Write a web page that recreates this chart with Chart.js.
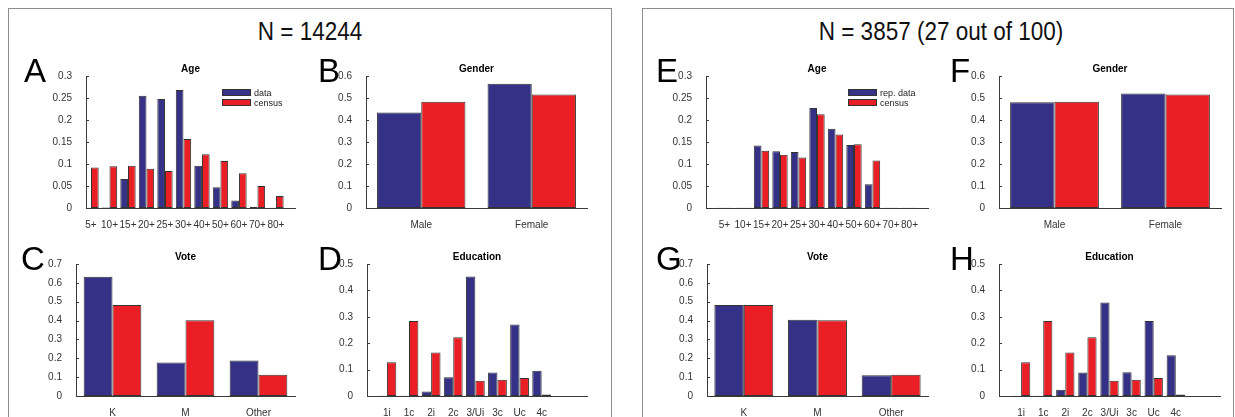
<!DOCTYPE html>
<html>
<head>
<meta charset="utf-8">
<script src="https://cdn.jsdelivr.net/npm/chart.js@4.4.1/dist/chart.umd.min.js"></script>
<style>
body { margin:0; background:#fff; width:1235px; height:417px; overflow:hidden; position:relative;
       font-family:"Liberation Sans", Arial, Helvetica, sans-serif; }
.moldura { position:absolute; border:1px solid #8c8c8c; box-sizing:border-box; }
.cabecalho { position:absolute; font-size:25px; line-height:25px; color:#111; white-space:nowrap; transform:translateX(-50%) scaleX(0.9); }
.letra { position:absolute; font-size:33px; line-height:33px; color:#000; z-index:2; }
canvas { position:absolute; }
</style>
</head>
<body>
<div class="moldura" style="left:8px;top:8px;width:604px;height:500px"></div>
<div class="moldura" style="left:642px;top:8px;width:592px;height:500px"></div>
<div class="cabecalho" style="left:310px;top:19px">N = 14244</div>
<div class="cabecalho" style="left:941px;top:19px">N = 3857 (27 out of 100)</div>
<div class="letra" style="left:24px;top:54px">A</div>
<div class="letra" style="left:318px;top:54px">B</div>
<div class="letra" style="left:21px;top:242px">C</div>
<div class="letra" style="left:318px;top:242px">D</div>
<div class="letra" style="left:656px;top:54px">E</div>
<div class="letra" style="left:950px;top:54px">F</div>
<div class="letra" style="left:656px;top:242px">G</div>
<div class="letra" style="left:950px;top:242px">H</div>
<script>
// dados
const faixas_idade = ['5+','10+','15+','20+','25+','30+','40+','50+','60+','70+','80+'];
const idade_dados = [0.0008, 0.0012, 0.066, 0.255, 0.248, 0.268, 0.096, 0.047, 0.017, 0.003, 0.0008];
const idade_censo = [0.092, 0.095, 0.096, 0.089, 0.084, 0.157, 0.122, 0.107, 0.079, 0.050, 0.027];
const idade_rep_dados = [0.0008, 0.0008, 0.142, 0.129, 0.127, 0.227, 0.180, 0.143, 0.054, 0.0008, 0.0008];
const idade_rep_censo = [0.0008, 0.0008, 0.130, 0.121, 0.115, 0.213, 0.167, 0.145, 0.108, 0.0008, 0.0008];

const generos = ['Male','Female'];
const genero_dados = [0.434, 0.565];
const genero_censo = [0.483, 0.516];
const genero_rep_dados = [0.481, 0.520];

const votos = ['K','M','Other'];
const voto_dados = [0.633, 0.177, 0.188];
const voto_censo = [0.482, 0.402, 0.113];
const voto_rep_dados = [0.482, 0.404, 0.110];

const escolaridade = ['1i','1c','2i','2c','3/Ui','3c','Uc','4c'];
const escolaridade_dados = [0.001, 0.001, 0.017, 0.071, 0.453, 0.089, 0.271, 0.096];
const escolaridade_censo = [0.128, 0.284, 0.165, 0.223, 0.058, 0.062, 0.068, 0.006];
const escolaridade_rep_dados = [0.001, 0.001, 0.024, 0.089, 0.354, 0.090, 0.284, 0.154];

const azul = 'rgb(53,49,135)';
const vermelho = 'rgb(234,31,37)';
const fonte = '"Liberation Sans", Arial, Helvetica, sans-serif';

// titulo, ticks internos do eixo y e legenda
const extras = {
    id: 'extras',
    afterDraw(chart, args, opts){
        const ctx = chart.ctx;
        const area = chart.chartArea;
        const eixo_y = chart.scales.y;
        ctx.save();
        ctx.strokeStyle = '#3a3a3a';
        ctx.lineWidth = 1;
        eixo_y.ticks.forEach(t => {
            const py = Math.round(eixo_y.getPixelForValue(t.value)) + 0.5;
            ctx.beginPath();
            ctx.moveTo(area.left, py);
            ctx.lineTo(area.left + 3, py);
            ctx.stroke();
        });
        ctx.fillStyle = '#000';
        ctx.font = 'bold 10px ' + fonte;
        ctx.textAlign = 'center';
        ctx.fillText(opts.titulo, (area.left + area.right)/2, area.top - 4);

        if(opts.legenda){
            ctx.font = '9px ' + fonte;
            ctx.textAlign = 'left';
            chart.data.datasets.forEach((ds, i) => {
                const x = area.left + opts.legenda;
                const y = area.top + 13 + i*10;
                ctx.fillStyle = ds.backgroundColor;
                ctx.fillRect(x, y, 29, 7);
                ctx.strokeStyle = '#333';
                ctx.strokeRect(x + 0.5, y + 0.5, 28, 6);
                ctx.fillStyle = '#222';
                ctx.fillText(ds.label, x + 32, y + 7);
            });
        }
        ctx.restore();
    }
};

function desenhar_painel(caixa, titulo, rotulos, serie1, serie2, nome1, ymax, passo, xmin, xmax, largura, legenda){
    const canvas = document.createElement('canvas');
    const w = caixa.r - caixa.l + 45 + 8;
    const h = caixa.b - caixa.t + 20 + 22;
    canvas.width = w; canvas.height = h;
    canvas.style.left = (caixa.l - 45) + 'px';
    canvas.style.top = (caixa.t - 20) + 'px';
    document.body.appendChild(canvas);

    const conjunto = (nome, valores, cor) => ({
        label: nome,
        data: valores.map((v, i) => ({x: i + 1, y: v})),
        backgroundColor: cor,
        borderColor: '#333',
        borderWidth: 1,
        borderSkipped: false,
        categoryPercentage: largura,
        barPercentage: 1
    });

    new Chart(canvas, {
        type: 'bar',
        data: {
            datasets: [conjunto(nome1, serie1, azul), conjunto('census', serie2, vermelho)]
        },
        options: {
            responsive: false,
            animation: false,
            devicePixelRatio: 1,
            layout: {padding: {top: 20, right: 8, left: 0, bottom: 0}},
            plugins: {
                legend: {display: false},
                tooltip: {enabled: false},
                extras: {titulo: titulo, legenda: legenda}
            },
            scales: {
                x: {
                    type: 'linear', min: xmin, max: xmax, offset: false,
                    grid: {display: false},
                    border: {display: true, color: '#3a3a3a'},
                    afterBuildTicks: s => { s.ticks = rotulos.map((r, i) => ({value: i + 1})); },
                    afterFit: s => { s.height = 22; },
                    ticks: {
                        autoSkip: false, maxRotation: 0, minRotation: 0, padding: 3,
                        color: '#333', font: {family: fonte, size: 10},
                        callback: v => rotulos[Math.round(v) - 1]
                    }
                },
                y: {
                    min: 0, max: ymax,
                    grid: {display: false},
                    border: {display: true, color: '#3a3a3a'},
                    afterFit: s => { s.width = 45; },
                    ticks: {
                        stepSize: passo, padding: 6,
                        color: '#333', font: {family: fonte, size: 10},
                        callback: v => String(parseFloat(v.toFixed(3)))
                    }
                }
            }
        },
        plugins: [extras]
    });
}

desenhar_painel({l:86, t:76, r:295, b:208}, 'Age', faixas_idade, idade_dados, idade_censo, 'data', 0.3, 0.05, 0.73, 12.03, 0.83, 136);
desenhar_painel({l:366, t:76, r:587, b:208}, 'Gender', generos, genero_dados, genero_censo, 'data', 0.6, 0.1, 0.5, 2.5, 0.8, null);
desenhar_painel({l:76, t:264, r:295, b:396}, 'Vote', votos, voto_dados, voto_censo, 'data', 0.7, 0.1, 0.5, 3.5, 0.79, null);
desenhar_painel({l:367, t:264, r:587, b:396}, 'Education', escolaridade, escolaridade_dados, escolaridade_censo, 'data', 0.5, 0.1, 0.1, 10.05, 0.85, null);

desenhar_painel({l:706, t:76, r:928, b:208}, 'Age', faixas_idade, idade_rep_dados, idade_rep_censo, 'rep. data', 0.3, 0.05, 0, 12, 0.83, 142);
desenhar_painel({l:999, t:76, r:1221, b:208}, 'Gender', generos, genero_rep_dados, genero_censo, 'rep. data', 0.6, 0.1, 0.5, 2.5, 0.8, null);
desenhar_painel({l:707, t:264, r:928, b:396}, 'Vote', votos, voto_rep_dados, voto_censo, 'rep. data', 0.7, 0.1, 0.5, 3.5, 0.8, null);
desenhar_painel({l:999, t:264, r:1220, b:396}, 'Education', escolaridade, escolaridade_rep_dados, escolaridade_censo, 'rep. data', 0.5, 0.1, 0, 10, 0.83, null);
</script>
</body>
</html>
